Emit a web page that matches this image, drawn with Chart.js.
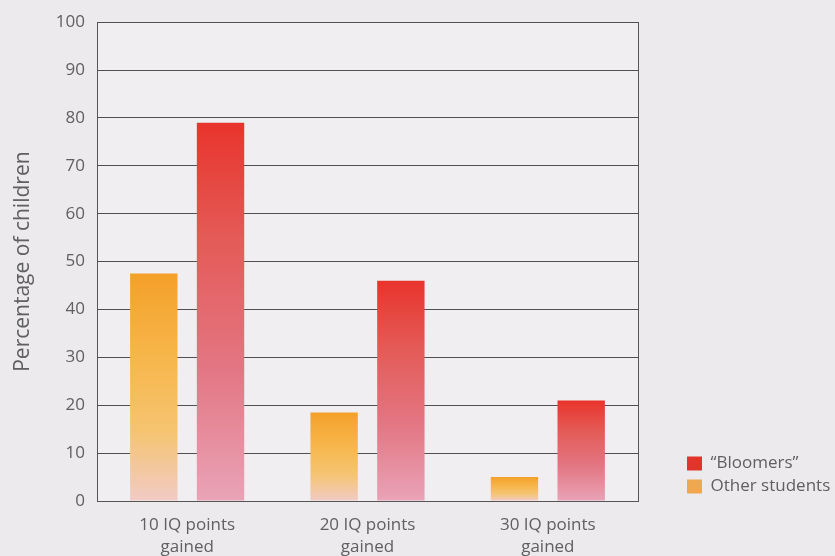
<!DOCTYPE html>
<html>
<head>
<meta charset="utf-8">
<script src="https://cdn.jsdelivr.net/npm/chart.js@4/dist/chart.umd.min.js"></script>
<style>
  body { margin: 0; background: #eceaed; }
  #wrap { width: 835px; height: 556px; }
</style>
</head>
<body>
<div id="wrap"><canvas id="chart" width="835" height="556"></canvas></div>
<script>
// data
var categories = [["10 IQ points", "gained"], ["20 IQ points", "gained"], ["30 IQ points", "gained"]];
var otherStudents = [47.5, 18.5, 5];
var bloomers = [79, 46, 21];
var yTicks = [0, 10, 20, 30, 40, 50, 60, 70, 80, 90, 100];

var FONT = "'Open Sans', 'Noto Sans', sans-serif";
var TEXT = '#606060';

// vertical fade on each bar, from its top down to the axis
function barFill(stops, flat) {
	return function(context) {
		var chart = context.chart;
		if (context.type !== 'data' || !chart.chartArea) return flat;
		var y = chart.scales.y;
		var top = y.getPixelForValue(context.raw);
		var g = chart.ctx.createLinearGradient(0, top, 0, y.getPixelForValue(0));
		stops.forEach(function(s) { g.addColorStop(s[0], s[1]); });
		return g;
	};
}

var plotBg = {
	id: 'plotBg',
	beforeDraw: function(chart) {
		var ctx = chart.ctx, a = chart.chartArea;
		ctx.save();
		ctx.fillStyle = '#eceaed';
		ctx.fillRect(0, 0, chart.width, chart.height);
		ctx.fillStyle = '#f0eef1';
		ctx.fillRect(a.left, a.top, a.right - a.left, a.bottom - a.top);
		ctx.restore();
	}
};

// keep the legend column a fixed width so the plot ends where it should
var legendWidth = {
	id: 'legendWidth',
	beforeLayout: function(chart) {
		var legend = chart.legend;
		if (legend && !legend._fixed) {
			var fit = legend.fit.bind(legend);
			legend.fit = function() { fit(); this.width = 154; };
			legend._fixed = true;
		}
	}
};

new Chart(document.getElementById('chart'), {
	type: 'bar',
	data: {
		labels: categories,
		datasets: [{
			label: 'Other students',
			data: otherStudents,
			backgroundColor: barFill([[0, '#f4a02a'], [0.35, '#f7b548'], [0.7, '#f5c472'], [1, '#f1cbc6']], '#f0a850'),
			borderWidth: 0,
			categoryPercentage: 0.74,
			barPercentage: 0.71
		}, {
			label: '\u201cBloomers\u201d',
			data: bloomers,
			backgroundColor: barFill([[0, '#e8342c'], [0.3, '#e45a56'], [0.65, '#e37683'], [1, '#e9a3b7']], '#e0342c'),
			borderWidth: 0,
			categoryPercentage: 0.74,
			barPercentage: 0.71
		}]
	},
	options: {
		responsive: false,
		animation: false,
		events: [],
		layout: { padding: { top: 17, right: 0, bottom: 0, left: 0 } },
		scales: {
			x: {
				grid: { display: false },
				border: { color: '#555555', width: 1 },
				ticks: {
					color: TEXT,
					font: { family: FONT, size: 17, lineHeight: 1.3 },
					padding: 5,
					maxRotation: 0
				},
				afterFit: function(s) { s.height = 55; }
			},
			y: {
				min: 0,
				max: 100,
				afterBuildTicks: function(s) { s.ticks = yTicks.map(function(v) { return { value: v }; }); },
				grid: { color: '#505050', lineWidth: 1, drawTicks: false },
				border: { color: '#555555', width: 1 },
				ticks: {
					color: TEXT,
					font: { family: FONT, size: 17 },
					padding: 12
				},
				title: {
					display: true,
					text: 'Percentage of children',
					color: TEXT,
					font: { family: FONT, size: 21 },
					padding: { top: 10, bottom: 0 }
				},
				afterFit: function(s) { s.width = 97; }
			},
			y2: {
				position: 'right',
				min: 0,
				max: 100,
				grid: { display: false, drawTicks: false },
				border: { color: '#555555', width: 1 },
				ticks: { display: false },
				afterFit: function(s) { s.width = 43; }
			}
		},
		plugins: {
			legend: {
				position: 'right',
				align: 'end',
				fullSize: false,
				reverse: true,
				labels: {
					boxWidth: 15,
					boxHeight: 14,
					padding: 6,
					color: TEXT,
					font: { family: FONT, size: 17 },
					generateLabels: function(chart) {
						var solid = ['#f0a850', '#e0342c'];
						return chart.data.datasets.map(function(ds, i) {
							return {
								text: ds.label,
								fillStyle: solid[i],
								strokeStyle: solid[i],
								lineWidth: 0,
								fontColor: TEXT,
								datasetIndex: i
							};
						});
					}
				}
			},
			tooltip: { enabled: false }
		}
	},
	plugins: [plotBg, legendWidth]
});
</script>
</body>
</html>
